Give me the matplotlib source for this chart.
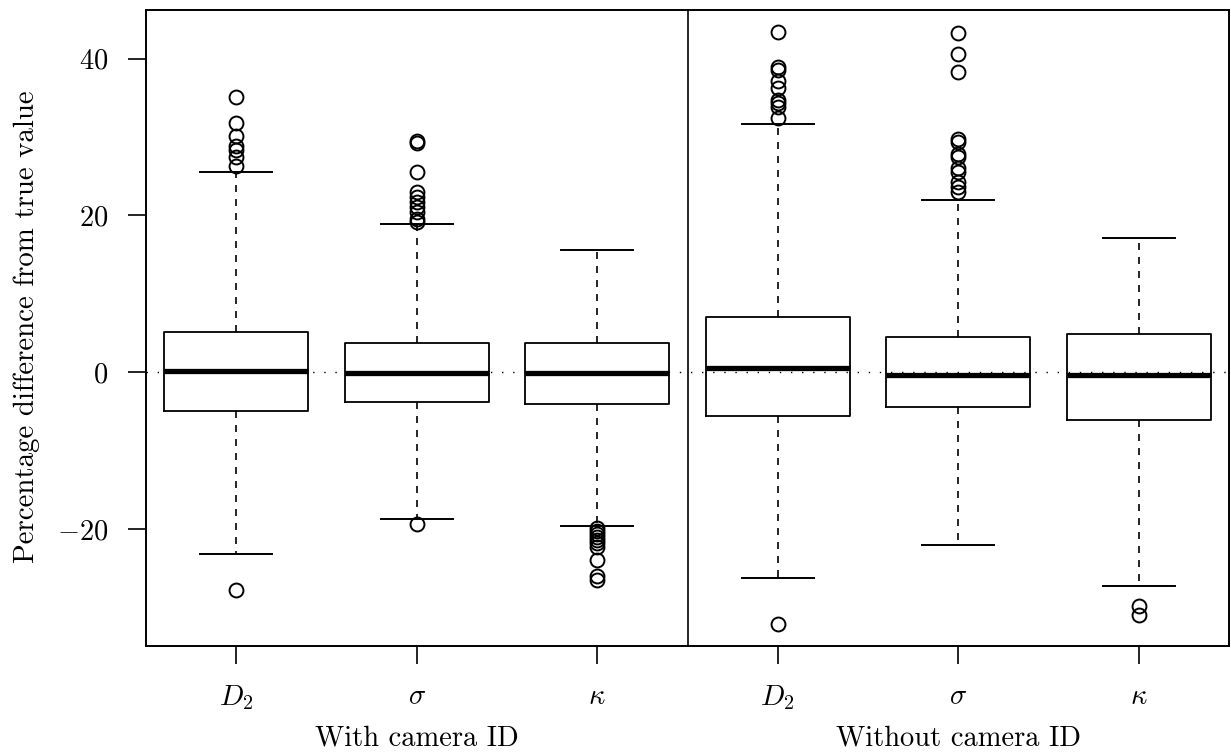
import numpy as np
from matplotlib import pyplot as plt
from matplotlib import transforms

plt.rcParams['font.family'] = 'serif'
plt.rcParams['font.serif'] = ['cmr10']
plt.rcParams['mathtext.fontset'] = 'cm'
plt.rcParams['axes.formatter.use_mathtext'] = True

# parameters: D2, sigma, kappa ; first with camera ID, then without
param_labels = ['$D_2$', r'$\sigma$', r'$\kappa$', '$D_2$', r'$\sigma$', r'$\kappa$']
group_labels = ['With camera ID', 'Without camera ID']

medians = [0.21, -0.08, -0.05, 0.55, -0.34, -0.3]
q1 = [-4.93, -3.82, -4.1, -5.6, -4.4, -6.1]
q3 = [5.18, 3.69, 3.7, 7.0, 4.5, 4.9]
whisk_lo = [-23.2, -18.75, -19.6, -26.2, -22.0, -27.3]
whisk_hi = [25.5, 18.9, 15.6, 31.7, 22.0, 17.1]
outliers = [
    [35.1, 31.8, 30.1, 28.8, 28.3, 27.5, 26.3, -27.7],
    [29.5, 29.3, 25.6, 23.0, 22.4, 21.7, 21.1, 20.4, 19.6, 19.2, -19.3],
    [-19.8, -20.2, -20.6, -21.0, -21.4, -21.8, -22.3, -23.9, -26.0, -26.5],
    [43.4, 38.9, 38.5, 37.2, 36.2, 34.7, 34.3, 33.8, 32.4, -32.1],
    [43.3, 40.6, 38.3, 29.8, 29.4, 27.9, 27.5, 26.0, 25.5, 24.3, 23.6, 23.0],
    [-29.8, -31.0],
]


def make_stats():
    stats = []
    for i in range(len(medians)):
        stats.append({'med': medians[i], 'q1': q1[i], 'q3': q3[i],
                      'whislo': whisk_lo[i], 'whishi': whisk_hi[i],
                      'fliers': outliers[i]})
    return stats


def main():
    fig = plt.figure(figsize=(12.31, 7.53), dpi=100)
    ax = fig.add_axes([146 / 1231, 1 - 646 / 753, (1229 - 146) / 1231, (646 - 10) / 753])

    pos = np.arange(1, len(medians) + 1)
    ax.bxp(make_stats(), positions=pos, widths=0.8, capwidths=0.4,
           manage_ticks=False,
           boxprops=dict(color='black', linewidth=1.3),
           whiskerprops=dict(color='black', linewidth=1.2, linestyle=(0, (4.2, 4.2))),
           capprops=dict(color='black', linewidth=1.4),
           medianprops=dict(color='black', linewidth=3.8, solid_capstyle='butt'),
           flierprops=dict(marker='o', markersize=10, markerfacecolor='none',
                           markeredgecolor='black', markeredgewidth=1.4))

    ax.axhline(0, color='black', linewidth=1.0, linestyle=(0, (1, 7)), zorder=3)
    ax.axvline(3.5, color='black', linewidth=1.2)

    ax.set_xlim(0.5, 6.5)
    ax.set_ylim(-34.9, 46.2)
    ax.set_yticks([-20, 0, 20, 40])
    ax.set_yticklabels(['$-20$', '$0$', '$20$', '$40$'])
    ax.set_xticks(pos)
    ax.set_xticklabels(param_labels)
    ax.tick_params(axis='both', length=13, width=1.2, labelsize=20.5)
    ax.tick_params(axis='y', pad=14)
    ax.tick_params(axis='x', pad=14)
    for sp in ax.spines.values():
        sp.set_linewidth(1.4)

    # group names under the tick labels
    trans = transforms.blended_transform_factory(ax.transData, fig.transFigure)
    for g, label in enumerate(group_labels):
        ax.text(2 + 3 * g, 1 - 746 / 753, label, fontsize=20.5, ha='center',
                va='baseline', transform=trans)

    fig.text(13 / 1231, 1 - 327 / 753, 'Percentage difference from true value',
             fontsize=20.8, rotation=90, ha='left', va='center')

    fig.savefig('out.png', dpi=100)


if __name__ == '__main__':
    main()
